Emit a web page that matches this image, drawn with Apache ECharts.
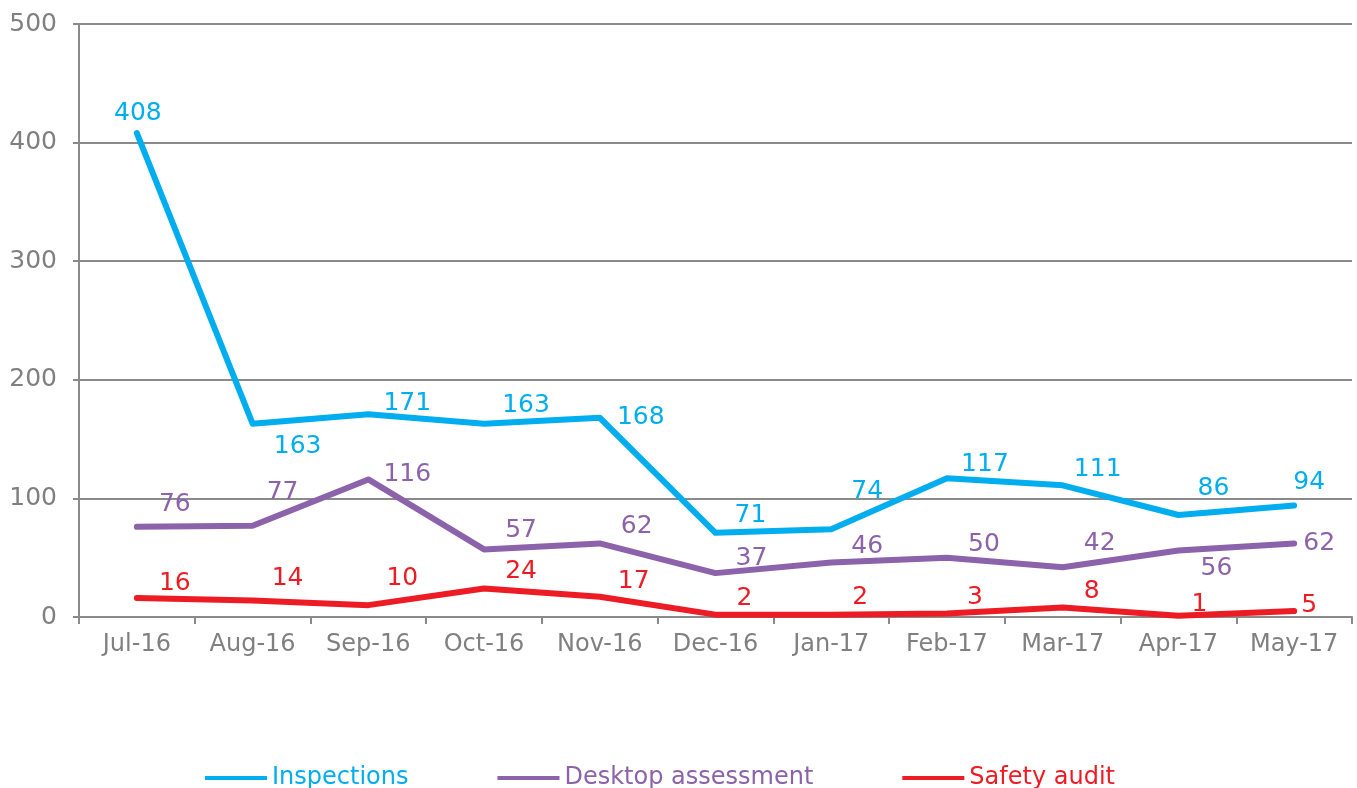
<!DOCTYPE html>
<html>
<head>
<meta charset="utf-8">
<title>Inspections</title>
<script src="https://cdn.jsdelivr.net/npm/echarts@6/dist/echarts.min.js"></script>
<style>
  html, body { margin: 0; padding: 0; background: #fff; }
  #chart { width: 1357px; height: 788px; }
</style>
</head>
<body>
<div id="chart"></div>
<script>
// data
var months = ['Jul-16', 'Aug-16', 'Sep-16', 'Oct-16', 'Nov-16', 'Dec-16', 'Jan-17', 'Feb-17', 'Mar-17', 'Apr-17', 'May-17'];
var inspections = [408, 163, 171, 163, 168, 71, 74, 117, 111, 86, 94];
var desktopAssessment = [76, 77, 116, 57, 62, 37, 46, 50, 42, 56, 62];
var safetyAudit = [16, 14, 10, 24, 17, 2, 2, 3, 8, 1, 5];
var yTicks = [0, 100, 200, 300, 400, 500];

// where each value label sits relative to its point (px)
var inspOffsets = [[1, -20], [45, 23], [39, -11], [42, -18], [41, 0], [35, -17], [36, -38], [38, -14], [35, -16], [35, -27], [15, -23]];
var deskOffsets = [[38, -22], [30, -33], [39, -5], [37, -19], [37, -17], [36, -15], [36, -16], [37, -13], [37, -24], [38, 18], [25, 0]];
var safeOffsets = [[38, -15], [35, -22], [34, -27], [37, -17], [34, -15], [29, -16], [29, -17], [28, -16], [29, -16], [21, -11], [15, -6]];

var FONT = '"DejaVu Sans", sans-serif';

function withLabels(values, offsets) {
  return values.map(function (v, i) {
    return { value: v, label: { offset: offsets[i] } };
  });
}

function lineSeries(name, color, values, offsets) {
  return {
    name: name,
    type: 'line',
    data: withLabels(values, offsets),
    symbol: 'circle',
    symbolSize: 1,
    itemStyle: { color: color },
    lineStyle: { color: color, width: 6, cap: 'round', join: 'round' },
    label: {
      show: true,
      position: 'inside',
      color: color,
      fontFamily: FONT,
      fontSize: 25
    },
    emphasis: { disabled: true },
    animation: false
  };
}

var mychart = echarts.init(document.getElementById('chart'));
mychart.setOption({
  animation: false,
  grid: { left: 79, right: 5, top: 24, bottom: 171 },
  legend: {
    top: 761,
    left: 200,
    itemWidth: 62,
    itemHeight: 4,
    itemGap: 89,
    icon: 'rect',
    textStyle: { fontFamily: FONT, fontSize: 24 },
    data: [
      { name: 'Inspections', textStyle: { color: '#00aeef' } },
      { name: 'Desktop assessment', textStyle: { color: '#8c62aa' } },
      { name: 'Safety audit', textStyle: { color: '#ed1c24' } }
    ]
  },
  xAxis: {
    type: 'category',
    data: months,
    boundaryGap: true,
    axisLine: { lineStyle: { color: '#8a8a8a', width: 2 } },
    axisTick: { show: true, length: 7, lineStyle: { color: '#8a8a8a', width: 2 } },
    axisLabel: { color: '#808080', fontFamily: FONT, fontSize: 24, margin: 16 }
  },
  yAxis: {
    type: 'value',
    min: yTicks[0],
    max: yTicks[yTicks.length - 1],
    interval: 100,
    axisLine: { show: true, lineStyle: { color: '#8a8a8a', width: 2 } },
    axisTick: { show: true, length: 6, lineStyle: { color: '#8a8a8a', width: 2 } },
    axisLabel: { color: '#808080', fontFamily: FONT, fontSize: 25, margin: 22 },
    splitLine: { lineStyle: { color: '#8a8a8a', width: 2 } }
  },
  series: [
    lineSeries('Inspections', '#00aeef', inspections, inspOffsets),
    lineSeries('Desktop assessment', '#8c62aa', desktopAssessment, deskOffsets),
    lineSeries('Safety audit', '#ed1c24', safetyAudit, safeOffsets)
  ]
});
</script>
</body>
</html>
